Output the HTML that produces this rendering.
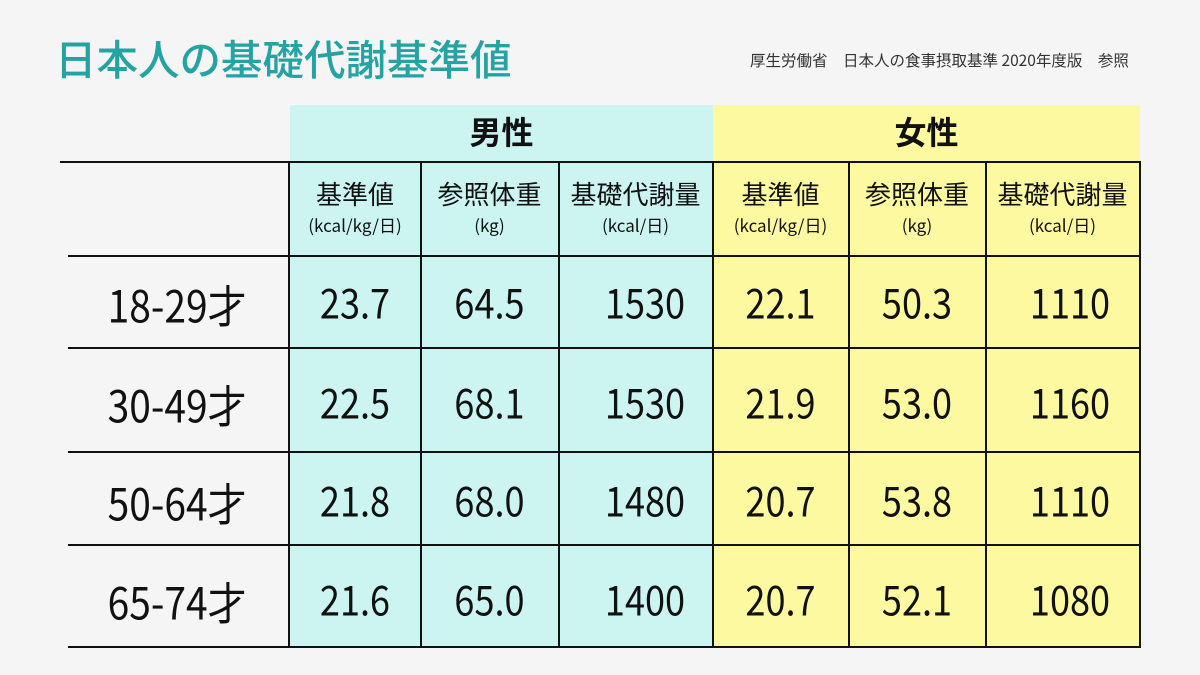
<!DOCTYPE html>
<html><head><meta charset="utf-8"><style>
body{margin:0;width:1200px;height:675px;background:#f5f5f5;position:relative;overflow:hidden;font-family:"Liberation Sans","Noto Sans CJK JP",sans-serif;color:#111}
.a{position:absolute}
.t{position:absolute;text-align:center;white-space:nowrap}
.h{position:absolute;height:2px;background:#111}
.v{position:absolute;width:2px;background:#111}
.num{font-family:"Noto Sans CJK JP",sans-serif;font-size:38px}
.num .t{transform:scale(0.95,1.08)}
.hd{font-size:26px;line-height:34px}
.hd span{font-size:17px;line-height:22px;display:block;margin-top:3px}
</style></head><body>
<div class="a" style="left:55px;top:27px;font-size:41.5px;color:#25a3a3;font-family:'Noto Sans CJK JP',sans-serif;font-weight:500;line-height:60px">日本人の基礎代謝基準値</div>
<div class="a" style="left:750px;top:49px;font-size:15.5px;color:#333;font-family:'Noto Sans CJK JP',sans-serif">厚生労働省　日本人の食事摂取基準 2020年度版　参照</div>
<div class="a" style="left:290px;top:105px;width:423px;height:543px;background:#ccf5f2"></div>
<div class="a" style="left:713px;top:105px;width:427px;height:543px;background:#fdf9a0"></div>
<div class="t" style="left:290px;top:108px;width:423px;font-size:32px;font-weight:bold;font-family:'Noto Sans CJK JP',sans-serif">男性</div>
<div class="t" style="left:713px;top:108px;width:427px;font-size:32px;font-weight:bold;font-family:'Noto Sans CJK JP',sans-serif">女性</div>
<div class="h" style="left:60px;top:161px;width:1080px"></div>
<div class="h" style="left:68px;top:255px;width:1072px"></div>
<div class="h" style="left:68px;top:347px;width:1072px"></div>
<div class="h" style="left:68px;top:451px;width:1072px"></div>
<div class="h" style="left:68px;top:544px;width:1072px"></div>
<div class="h" style="left:68px;top:646px;width:1072px"></div>
<div class="v" style="left:288px;top:161px;height:487px"></div>
<div class="v" style="left:420px;top:161px;height:487px"></div>
<div class="v" style="left:558px;top:161px;height:487px"></div>
<div class="v" style="left:712px;top:161px;height:487px"></div>
<div class="v" style="left:848px;top:161px;height:487px"></div>
<div class="v" style="left:985px;top:161px;height:487px"></div>
<div class="v" style="left:1139px;top:161px;height:487px"></div>
<div style="font-family:'Noto Sans CJK JP',sans-serif">
<div class="t hd" style="left:290px;top:177px;width:130px">基準値<span>(kcal/kg/日)</span></div>
<div class="t hd" style="left:421px;top:177px;width:137px">参照体重<span>(kg)</span></div>
<div class="t hd" style="left:559px;top:177px;width:153px">基礎代謝量<span>(kcal/日)</span></div>
<div class="t hd" style="left:713px;top:177px;width:135px">基準値<span>(kcal/kg/日)</span></div>
<div class="t hd" style="left:849px;top:177px;width:136px">参照体重<span>(kg)</span></div>
<div class="t hd" style="left:986px;top:177px;width:153px">基礎代謝量<span>(kcal/日)</span></div>
</div>
<div class="num">
<div class="t" style="left:104px;top:273px;font-size:41px">18-29才</div>
<div class="t" style="left:104px;top:373px;font-size:41px">30-49才</div>
<div class="t" style="left:104px;top:471px;font-size:41px">50-64才</div>
<div class="t" style="left:104px;top:570px;font-size:41px">65-74才</div>
<div class="t" style="left:290px;top:273px;width:130px">23.7</div><div class="t" style="left:421px;top:273px;width:137px">64.5</div><div class="t" style="left:580px;top:273px;width:130px">1530</div>
<div class="t" style="left:713px;top:273px;width:135px">22.1</div><div class="t" style="left:849px;top:273px;width:136px">50.3</div><div class="t" style="left:1005px;top:273px;width:130px">1110</div>
<div class="t" style="left:290px;top:373px;width:130px">22.5</div><div class="t" style="left:421px;top:373px;width:137px">68.1</div><div class="t" style="left:580px;top:373px;width:130px">1530</div>
<div class="t" style="left:713px;top:373px;width:135px">21.9</div><div class="t" style="left:849px;top:373px;width:136px">53.0</div><div class="t" style="left:1005px;top:373px;width:130px">1160</div>
<div class="t" style="left:290px;top:471px;width:130px">21.8</div><div class="t" style="left:421px;top:471px;width:137px">68.0</div><div class="t" style="left:580px;top:471px;width:130px">1480</div>
<div class="t" style="left:713px;top:471px;width:135px">20.7</div><div class="t" style="left:849px;top:471px;width:136px">53.8</div><div class="t" style="left:1005px;top:471px;width:130px">1110</div>
<div class="t" style="left:290px;top:570px;width:130px">21.6</div><div class="t" style="left:421px;top:570px;width:137px">65.0</div><div class="t" style="left:580px;top:570px;width:130px">1400</div>
<div class="t" style="left:713px;top:570px;width:135px">20.7</div><div class="t" style="left:849px;top:570px;width:136px">52.1</div><div class="t" style="left:1005px;top:570px;width:130px">1080</div>
</div>
</body></html>
